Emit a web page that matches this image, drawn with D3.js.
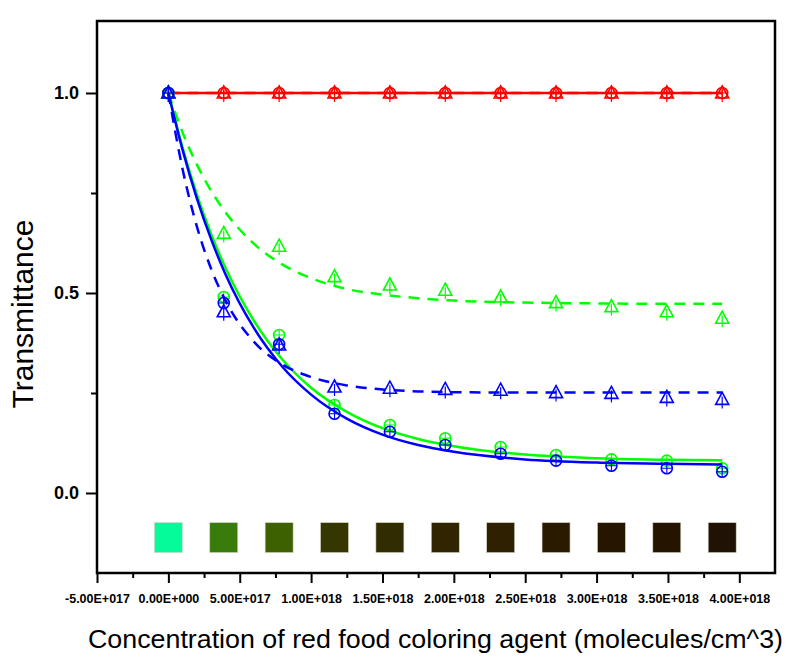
<!DOCTYPE html>
<html>
<head>
<meta charset="utf-8">
<script src="https://cdn.jsdelivr.net/npm/d3@7"></script>
<style>
    body { margin: 0; background: #fff; }
    svg { display: block; font-family: "Liberation Sans", Arial, sans-serif; }
</style>
</head>
<body>
<script>
// concentration of each sample (molecules/cm^3)
const conc = [0, 3.88e17, 7.76e17, 1.164e18, 1.552e18, 1.94e18, 2.328e18, 2.716e18, 3.104e18, 3.492e18, 3.88e18]

// measured transmittance
const redTri    = [1.0, 1.0, 1.0, 1.0, 1.0, 1.0, 1.0, 1.0, 1.0, 1.0, 1.0]
const redCirc   = [1.0, 1.0, 1.0, 1.0, 1.0, 1.0, 1.0, 1.0, 1.0, 1.0, 1.0]
const greenTri  = [1.0, 0.649, 0.617, 0.541, 0.52, 0.507, 0.49, 0.476, 0.466, 0.453, 0.437]
const greenCirc = [1.0, 0.49, 0.395, 0.22, 0.17, 0.137, 0.115, 0.095, 0.084, 0.081, 0.062]
const blueTri   = [1.0, 0.453, 0.37, 0.265, 0.262, 0.259, 0.257, 0.251, 0.249, 0.239, 0.234]
const blueCirc  = [1.0, 0.475, 0.372, 0.198, 0.153, 0.12, 0.098, 0.081, 0.068, 0.062, 0.053]

// fitted curves
const fitX         = [0, 1e17, 2e17, 3e17, 4e17, 6e17, 8e17, 1e18, 1.25e18, 1.5e18, 1.75e18, 2e18, 2.5e18, 3e18, 3.5e18, 3.88e18]
const redFit       = [1, 1, 1, 1, 1, 1, 1, 1, 1, 1, 1, 1, 1, 1, 1, 1]
const greenFit     = [1.0, 0.863, 0.746, 0.647, 0.563, 0.43, 0.333, 0.263, 0.203, 0.162, 0.135, 0.117, 0.096, 0.087, 0.083, 0.082]
const greenDashFit = [1.0, 0.901, 0.821, 0.755, 0.702, 0.623, 0.571, 0.537, 0.51, 0.496, 0.487, 0.481, 0.476, 0.474, 0.473, 0.473]
const blueFit      = [1.0, 0.857, 0.736, 0.634, 0.547, 0.412, 0.315, 0.246, 0.186, 0.146, 0.12, 0.103, 0.084, 0.076, 0.073, 0.071]
const blueDashFit  = [1.0, 0.809, 0.666, 0.56, 0.481, 0.378, 0.321, 0.29, 0.269, 0.259, 0.254, 0.252, 0.251, 0.251, 0.251, 0.251]

// colour of each sample solution
const swatches = ['#05fb9a', '#3a7c0b', '#3d6100', '#363600', '#312d00', '#302500',
                  '#2e2000', '#291a00', '#261600', '#241400', '#201306']

const xMajor = [-5e17, 0, 5e17, 1e18, 1.5e18, 2e18, 2.5e18, 3e18, 3.5e18, 4e18]
const xMinor = [-2.5e17, 2.5e17, 7.5e17, 1.25e18, 1.75e18, 2.25e18, 2.75e18, 3.25e18, 3.75e18]
const yMajor = [0, 0.5, 1.0]
const yMinor = [0.25, 0.75]

let w = 787,
    h = 661
let plotL = 97, plotR = 775, plotT = 21, plotB = 573

let x = d3.scaleLinear().domain([-5e17, 4.25e18]).range([plotL, plotR])
let y = d3.scaleLinear().domain([-0.2, 1.18]).range([plotB, plotT])

// "5.00E+017" style labels
function sci(v) {
    if (v === 0) return '0.00E+000'
    let e = Math.floor(Math.log10(Math.abs(v)))
    let m = v / Math.pow(10, e)
    return m.toFixed(2) + 'E' + (e < 0 ? '-' : '+') + String(Math.abs(e)).padStart(3, '0')
}

let svg = d3.select('body').append('svg')
    .attr('width', w)
    .attr('height', h)

// axes
let xAxis = svg.append('g')
    .attr('transform', 'translate(0,' + plotB + ')')
    .call(d3.axisBottom(x).tickValues(xMajor).tickSize(10).tickPadding(11).tickFormat(sci))
xAxis.select('.domain').remove()
xAxis.selectAll('text').style('font-size', '12.5px').style('font-weight', 'bold').attr('fill', '#000')
xAxis.selectAll('line').attr('stroke-width', 2)

let xMin = svg.append('g')
    .attr('transform', 'translate(0,' + plotB + ')')
    .call(d3.axisBottom(x).tickValues(xMinor).tickSize(5).tickFormat(''))
xMin.select('.domain').remove()
xMin.selectAll('line').attr('stroke-width', 2)

let yAxis = svg.append('g')
    .attr('transform', 'translate(' + plotL + ',0)')
    .call(d3.axisLeft(y).tickValues(yMajor).tickSize(11).tickPadding(7).tickFormat(d3.format('.1f')))
yAxis.select('.domain').remove()
yAxis.selectAll('text').style('font-size', '18px').style('font-weight', 'bold').attr('fill', '#000')
yAxis.selectAll('line').attr('stroke-width', 2)

let yMin = svg.append('g')
    .attr('transform', 'translate(' + plotL + ',0)')
    .call(d3.axisLeft(y).tickValues(yMinor).tickSize(6).tickFormat(''))
yMin.select('.domain').remove()
yMin.selectAll('line').attr('stroke-width', 2)

// frame
svg.append('rect')
    .attr('x', plotL)
    .attr('y', plotT)
    .attr('width', plotR - plotL)
    .attr('height', plotB - plotT)
    .attr('fill', 'none')
    .attr('stroke', '#000')
    .attr('stroke-width', 2.5)

// colour swatches under the curves
const SW = 28
svg.append('g').selectAll('rect')
    .data(swatches)
    .enter()
    .append('rect')
    .attr('x', (d, i) => x(conc[i]) - SW / 2)
    .attr('y', y(-0.074))
    .attr('width', SW)
    .attr('height', y(-0.149) - y(-0.074))
    .attr('fill', d => d)
    .attr('stroke', '#d8d8c8')
    .attr('stroke-width', 0.6)

let line = d3.line()
    .x((d, i) => x(fitX[i]))
    .y(d => y(d))
    .curve(d3.curveMonotoneX)

function drawFit(values, color, dashed) {
    svg.append('path')
        .attr('d', line(values))
        .attr('fill', 'none')
        .attr('stroke', color)
        .attr('stroke-width', 2.5)
        .attr('stroke-dasharray', dashed ? '11,8' : null)
}

function drawTriangles(values, color) {
    let g = svg.append('g')
    let tri = g.selectAll('g')
        .data(values)
        .enter()
        .append('g')
        .attr('transform', (d, i) => 'translate(' + x(conc[i]) + ',' + y(d) + ')')
    tri.append('path')
        .attr('d', 'M0,-7L6.5,5L-6.5,5Z')
        .attr('fill', 'none')
        .attr('stroke', color)
        .attr('stroke-width', 1.6)
    tri.append('line')
        .attr('x1', 0).attr('x2', 0)
        .attr('y1', -3).attr('y2', 9)
        .attr('stroke', color)
        .attr('stroke-width', 1.2)
}

function drawCircles(values, color) {
    let g = svg.append('g')
    let c = g.selectAll('g')
        .data(values)
        .enter()
        .append('g')
        .attr('transform', (d, i) => 'translate(' + x(conc[i]) + ',' + y(d) + ')')
    c.append('circle')
        .attr('r', 5.5)
        .attr('fill', 'none')
        .attr('stroke', color)
        .attr('stroke-width', 1.6)
    c.append('path')
        .attr('d', 'M-5.5,0H5.5M0,-5.5V5.5')
        .attr('stroke', color)
        .attr('stroke-width', 1.1)
}

const RED = '#ff0000', GREEN = '#00ff00', BLUE = '#0000ff'

drawFit(redFit, RED, true)
drawFit(redFit, RED, false)
drawCircles(redCirc, RED)
drawTriangles(redTri, RED)

drawFit(greenDashFit, GREEN, true)
drawFit(greenFit, GREEN, false)
drawCircles(greenCirc, GREEN)
drawTriangles(greenTri, GREEN)

drawFit(blueDashFit, BLUE, true)
drawFit(blueFit, BLUE, false)
drawCircles(blueCirc, BLUE)
drawTriangles(blueTri, BLUE)

// axis titles
svg.append('text')
    .attr('transform', 'translate(33,314) rotate(-90)')
    .attr('text-anchor', 'middle')
    .style('font-size', '30px')
    .text('Transmittance')

svg.append('text')
    .attr('x', 88)
    .attr('y', 648)
    .attr('textLength', 695)
    .attr('lengthAdjust', 'spacingAndGlyphs')
    .style('font-size', '26px')
    .text('Concentration of red food coloring agent (molecules/cm^3)')
</script>
</body>
</html>
